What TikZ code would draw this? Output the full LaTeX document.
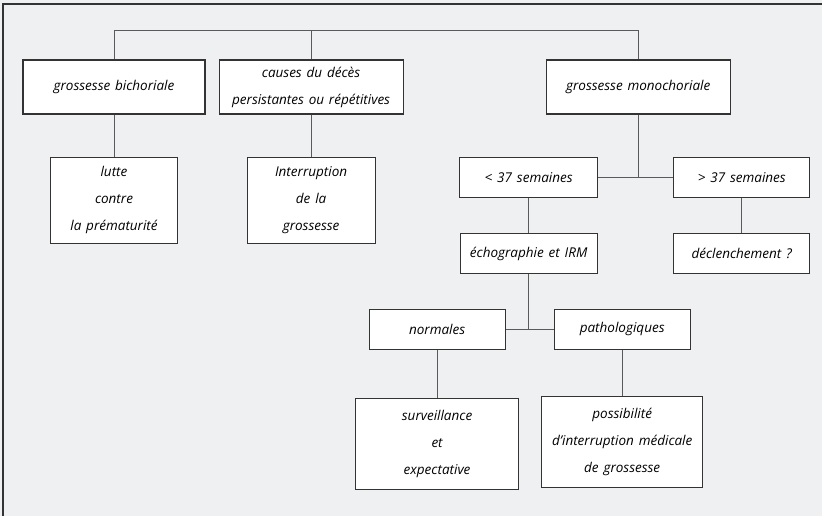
\documentclass[tikz,border=0pt]{standalone}
\usepackage{fontspec}
\setmainfont{Open Sans}
\usepackage{xcolor}
\usepackage{tikz}
\usetikzlibrary{positioning}
\definecolor{bggrey}{HTML}{EFF0F2}
\definecolor{linegrey}{HTML}{5A5A5A}
\definecolor{boxline}{HTML}{333333}
\newcommand{\boxfont}{\fontsize{13.5}{27}\selectfont\itshape\spaceskip=0.36em plus 0.1em\relax}
\tikzset{
    box/.style={rectangle, draw=boxline, line width=1.1pt, fill=white, align=center, inner sep=0pt, minimum height=40pt, font=\boxfont, text=black},
    link/.style={draw=linegrey, line width=1pt}
}

\begin{document}
\begin{tikzpicture}[x=1pt, y=-1pt]
  \fill[bggrey] (0,0) rectangle (822,516);
  \useasboundingbox (0,0) rectangle (822,516);
  \draw[boxline, line width=1.5pt] (822,4) -- (3,4) -- (3,516);
  % top row
  \node[box, minimum width=182pt, minimum height=54pt] (bich) at (114,87) {grossesse bichoriale};
  \node[box, minimum width=184pt, minimum height=54pt, right=13pt of bich] (causes) {causes du décès\\persistantes ou répétitives};
  \node[box, minimum width=184pt, minimum height=54pt, right=142pt of causes] (mono) {grossesse monochoriale};
  \node[box, minimum width=127pt, minimum height=86pt, below=42pt of bich] (lutte) {lutte\\contre\\la prématurité};
  \node[box, minimum width=128pt, minimum height=86pt, below=42pt of causes] (interr) {Interruption\\de la\\grossesse};
  % monochoriale branch
  \coordinate[below=63pt of mono.south] (fork1);
  \node[box, minimum width=138pt, left=40pt of fork1] (avant) {< 37 semaines};
  \node[box, minimum width=136pt, right=35pt of fork1] (apres) {> 37 semaines};
  \node[box, minimum width=137pt, below=35pt of avant] (echo) {échographie et IRM};
  \node[box, minimum width=136pt, below=35pt of apres] (declench) {déclenchement ?};
  \coordinate[below=55pt of echo.south] (fork2);
  \node[box, minimum width=136pt, left=23pt of fork2] (normal) {normales};
  \node[box, minimum width=136pt, right=25pt of fork2] (patho) {pathologiques};
  \node[box, minimum width=163pt, minimum height=91pt, below=48pt of normal] (surv) {surveillance\\et\\expectative};
  \node[box, minimum width=161pt, minimum height=91pt, below=46pt of patho] (imq) {possibilité\\d’interruption médicale\\de grossesse};
  % connectors
  \coordinate[above=29pt of bich.north] (bus);
  \draw[link] (bich.north) -- (bus) -| (mono.north);
  \draw[link] (causes.north) -- (causes.north |- bus);
  \draw[link] (bich) -- (lutte);
  \draw[link] (causes) -- (interr);
  \draw[link] (mono) -- (fork1);
  \draw[link] (avant) -- (apres);
  \draw[link] (avant) -- (echo);
  \draw[link] (apres) -- (declench);
  \draw[link] (echo) -- (fork2);
  \draw[link] (normal) -- (patho);
  \draw[link] (normal) -- (surv);
  \draw[link] (patho) -- (imq);
\end{tikzpicture}
\end{document}
